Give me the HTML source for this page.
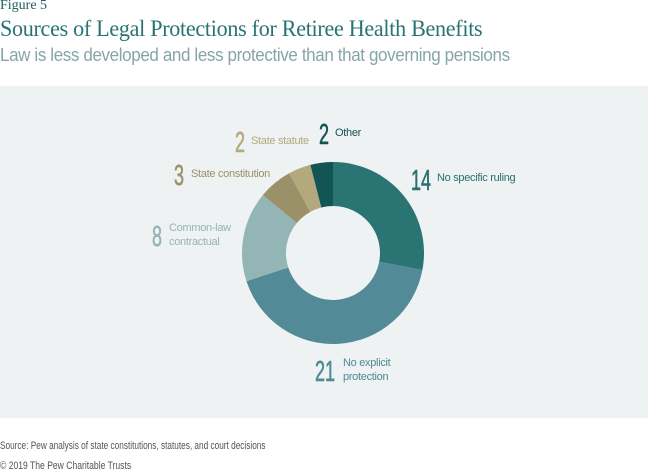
<!DOCTYPE html>
<html><head><meta charset="utf-8">
<style>
body{margin:0;width:650px;height:474px;background:#fff;position:relative;overflow:hidden;font-family:"Liberation Sans",sans-serif}
.t{position:absolute;white-space:nowrap}
</style></head><body>
<div class="t" style="left:0;top:-2px;font:14px 'Liberation Serif',serif;color:#1f5f5f">Figure 5</div>
<div class="t" style="left:0;top:16px;font:23px 'Liberation Serif',serif;color:#2a7373;letter-spacing:-0.3px;transform:scaleX(0.96);transform-origin:0 0">Sources of Legal Protections for Retiree Health Benefits</div>
<div class="t" style="left:0;top:45px;font:18px 'Liberation Sans',sans-serif;color:#86a6a6;letter-spacing:-0.4px;transform:scaleX(0.945);transform-origin:0 0">Law is less developed and less protective than that governing pensions</div>
<div style="position:absolute;left:0;top:86px;width:648px;height:332px;background:#eef2f2"></div>
<svg id="chart" width="650" height="474" style="position:absolute;left:0;top:0"></svg>
<div class="t" style="left:0;top:440px;font-size:11px;color:#555;transform:scaleX(0.75);transform-origin:0 0">Source: Pew analysis of state constitutions, statutes, and court decisions</div>
<div class="t" style="left:0;top:460px;font-size:11px;color:#555;transform:scaleX(0.78);transform-origin:0 0">© 2019 The Pew Charitable Trusts</div>
<script>
const categories=["No specific ruling","No explicit protection","Common-law contractual","State constitution","State statute","Other"];
const values=[14,21,8,3,2,2];
const colors=["#2a7474","#528a97","#93b5b5","#9a9169","#b3a97d","#135454"];
const svg=document.getElementById('chart');
const NS='http://www.w3.org/2000/svg';
const cx=333,cy=253,R=91,r=47;
const total=values.reduce((a,b)=>a+b,0);
function pt(a,rad){return [cx+rad*Math.sin(a),cy-rad*Math.cos(a)];}
let acc=0;
values.forEach((v,i)=>{
  const a0=acc/total*2*Math.PI; acc+=v; const a1=acc/total*2*Math.PI;
  const lg=(a1-a0)>Math.PI?1:0;
  const [x0,y0]=pt(a0,R),[x1,y1]=pt(a1,R),[x2,y2]=pt(a1,r),[x3,y3]=pt(a0,r);
  const p=document.createElementNS(NS,'path');
  p.setAttribute('d',`M${x0},${y0}A${R},${R} 0 ${lg} 1 ${x1},${y1}L${x2},${y2}A${r},${r} 0 ${lg} 0 ${x3},${y3}Z`);
  p.setAttribute('fill',colors[i]);
  
  
  svg.appendChild(p);
});
const labelPos=[[411,190,437,[181],"#2a6f6f"],[315,381,343,[366,380],"#4e8a97"],[152,246,169,[231,245],"#93b5b5"],[174,185,191,[177],"#9a9169"],[235,152,251,[144],"#b3a97d"],[319,144,335,[136],"#135454"]];
const lines=[["No specific ruling"],["No explicit","protection"],["Common-law","contractual"],["State constitution"],["State statute"],["Other"]];
values.forEach((v,i)=>{
  const [nx,ny,tx,ly,c]=labelPos[i];
  const n=document.createElementNS(NS,'text');
  n.setAttribute('x',0);n.setAttribute('y',0);
  n.setAttribute('transform',`translate(${nx},${ny}) scale(0.62,1)`);
  n.setAttribute('font-size','29');n.setAttribute('fill',c);
  n.setAttribute('font-family','Liberation Sans, sans-serif');
  n.setAttribute('stroke',c);n.setAttribute('stroke-width','0.6');
  n.textContent=v;
  
  
  svg.appendChild(n);
  lines[i].forEach((s,j)=>{
    const t=document.createElementNS(NS,'text');
    t.setAttribute('x',tx);t.setAttribute('y',ly[j]);
    t.setAttribute('font-size','11');t.setAttribute('fill',c);
    t.setAttribute('font-family','Liberation Sans, sans-serif');
    t.setAttribute('letter-spacing','-0.3');
    t.textContent=s;
    
    
    svg.appendChild(t);
  });
});
</script>
</body></html>
